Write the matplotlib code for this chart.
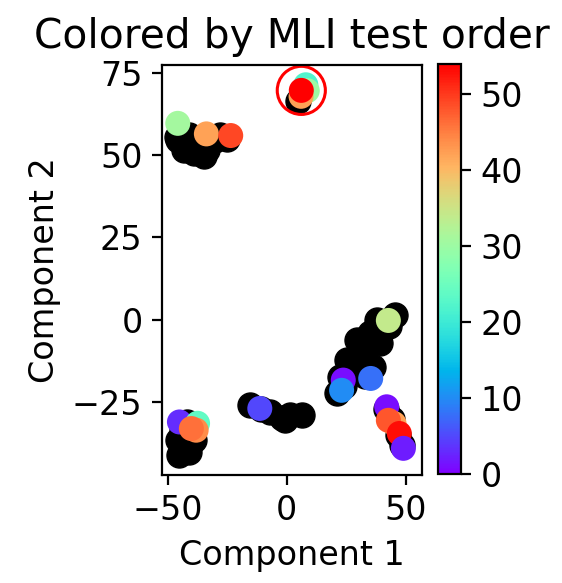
import numpy as np
import matplotlib
matplotlib.use("Agg")
from matplotlib import pyplot as plt

# black background points (component 1, component 2)
black_x = [-46, -45.4, -42.9, -38.7, -34.5, -33.6, -30, -41, -28, -25,
           4.8,
           -45.8, -45, -40.8, -43, -38.7, -44, -42,
           -15.5, -7.1, -2.1, 1.3, 6.3, -0.8, -11,
           45.4, 29.3, 25.1, 34.9, 37.7, 32, 27.7, 36.1, 22.3, 20.9, 39, 43, 24, 33,
           41.5, 44, 46.5, 48.5]
black_y = [55.5, 54.4, 51.4, 50.5, 49.8, 51.4, 54.4, 56, 56, 55,
           66.5,
           -36.5, -41, -40, -38, -36.5, -33, -31,
           -25.9, -28, -29.8, -28.9, -28.9, -30.5, -27,
           1.4, -6.2, -12.3, -4.1, -0.2, -9.2, -14.4, -14.4, -17.4, -22.3, -7.1, -2, -20, -17,
           -27, -30, -35, -38]

# points coloured by MLI test order
test_x = [-45.7, -33.7, -23.5,
          8.0, 8.6, 6.0, 6.1,
          -45, -37.4, -38, -40,
          -11.3,
          42.6, 23.7, 23, 35.2,
          41.9, 45.0, 42.6, 47.2, 48.9]
test_y = [59.6, 56.4, 55.9,
          71.3, 69.5, 67.8, 69.6,
          -31, -31.4, -33.5, -33,
          -26.9,
          -0.2, -18.3, -21.4, -17.8,
          -26.4, -31.5, -30.5, -34.5, -39]
test_order = [31, 42, 49,
              22, 30, 42, 54,
              3, 24, 44, 46,
              5,
              34, 1, 10, 8,
              1, 42, 48, 53, 2]

# highlighted point
highlight = (6.1, 69.6)

fig = plt.figure(figsize=(5.62 / 2, 5.83 / 2), dpi=200)
ax = fig.add_axes([0.2883, 0.1852, 0.4617, 0.7033])
cax = fig.add_axes([0.7794, 0.1870, 0.0409, 0.7033])

ax.scatter(black_x, black_y, s=81, c="black", edgecolors="black", linewidths=0.5)
sc = ax.scatter(test_x, test_y, s=81, c=test_order, cmap="rainbow",
                vmin=0, vmax=54, edgecolors="none")
ax.scatter([highlight[0]], [highlight[1]], s=300, facecolors="none",
           edgecolors="red", linewidths=1.1)

ax.set_xlim(-52.3, 56.5)
ax.set_ylim(-47.1, 77.3)
ax.set_xticks([-50, 0, 50])
ax.set_yticks([-25, 0, 25, 50, 75])
ax.tick_params(labelsize=12)
ax.set_xlabel("Component 1", fontsize=12)
ax.set_ylabel("Component 2", fontsize=12)
ax.set_title("Colored by MLI test order", fontsize=14.7)

cb = fig.colorbar(sc, cax=cax)
cb.set_ticks([0, 10, 20, 30, 40, 50])
cb.ax.tick_params(labelsize=12)

fig.savefig("out.png", dpi=200)
